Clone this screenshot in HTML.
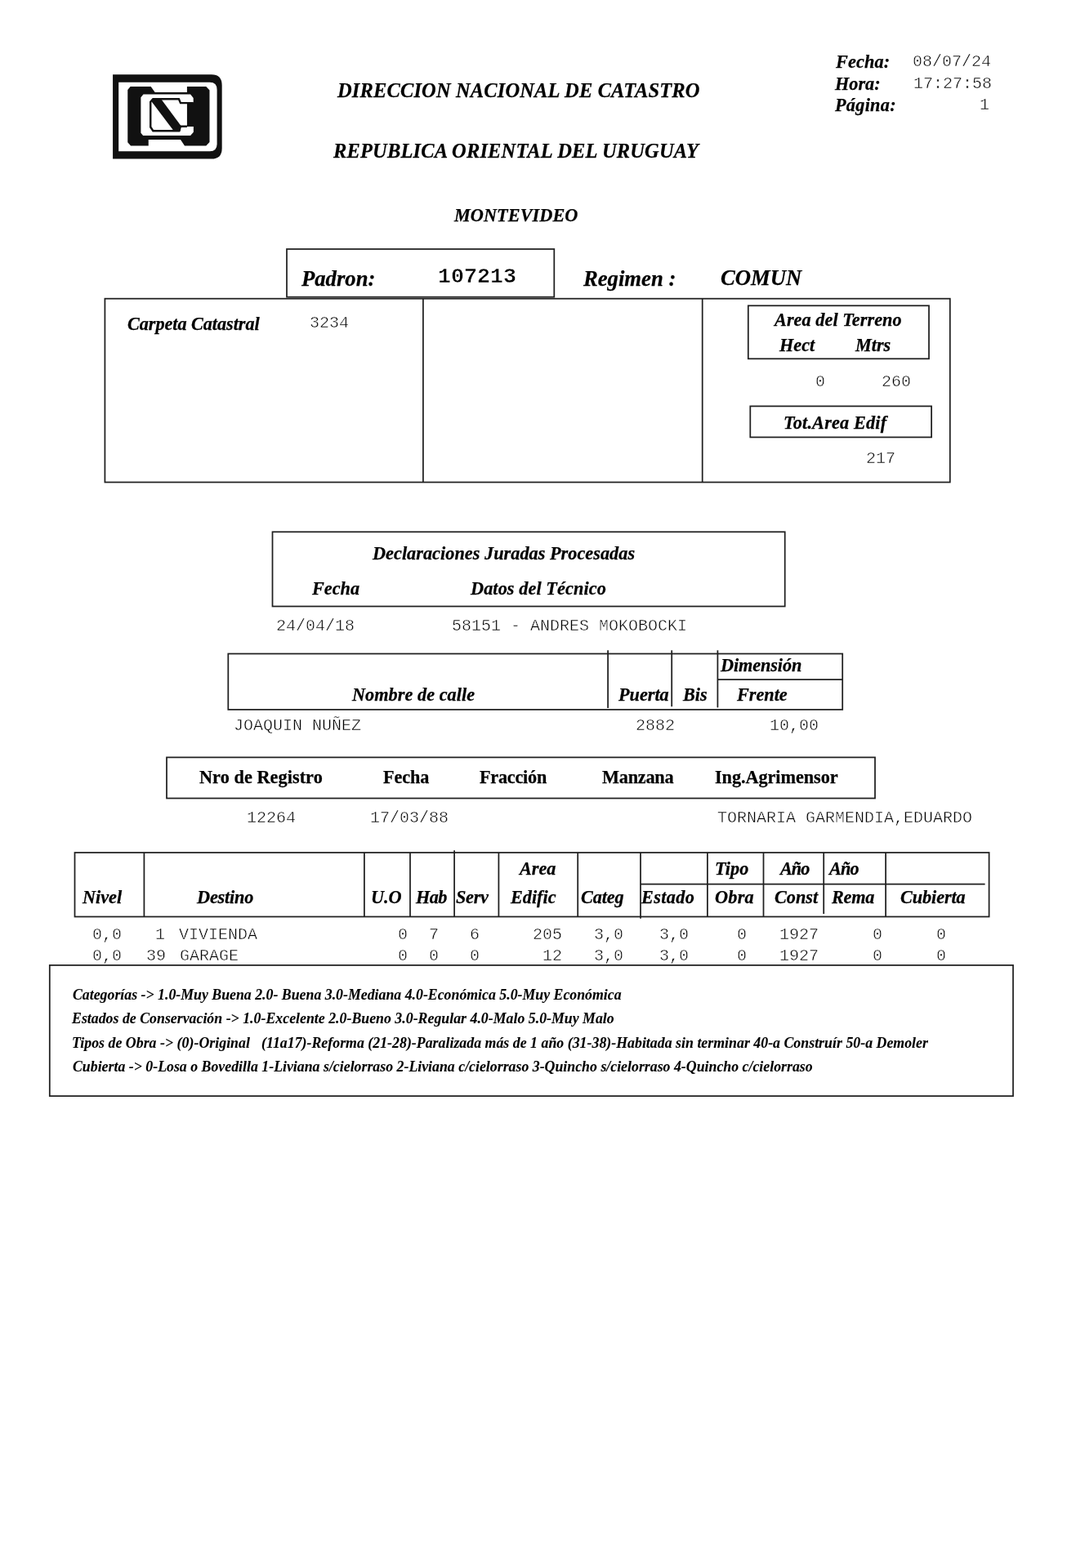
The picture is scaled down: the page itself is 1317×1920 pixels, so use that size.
<!DOCTYPE html>
<html lang="es"><head><meta charset="utf-8"><title>Direccion Nacional de Catastro</title>
<style>
html,body{margin:0;padding:0;background:#fff}
#pg{position:relative;width:1317px;height:1920px;background:#fff;overflow:hidden}
#pg div{position:absolute;white-space:pre;line-height:1;color:#000;will-change:transform}
#pg svg{position:absolute;left:0;top:0}
#pg .t1{font:italic bold 24.44px/1 'Liberation Serif',serif;-webkit-text-stroke:0.25px #000}
#pg .bi{font:italic bold 22.22px/1 'Liberation Serif',serif;-webkit-text-stroke:0.25px #000}
#pg .big{font:italic bold 26.67px/1 'Liberation Serif',serif;-webkit-text-stroke:0.25px #000}
#pg .b{font:bold 22.22px/1 'Liberation Serif',serif;-webkit-text-stroke:0.25px #000}
#pg .n{font:italic bold 17.78px/1 'Liberation Serif',serif;-webkit-text-stroke:0.1px #000}
#pg .m{font:normal 20px/1 'Liberation Mono',monospace;color:#000;-webkit-text-stroke:0.5px #fff}
#pg .mb{font:bold 26.67px/1 'Liberation Mono',monospace;-webkit-text-stroke:0.5px #fff}
</style></head><body>
<div id="pg">
<svg width="1317" height="1920" viewBox="0 0 1317 1920">
<g fill="none" stroke="#202020" stroke-width="1.75">
<rect x="351.00" y="305.00" width="327.30" height="58.70"/>
<rect x="128.40" y="365.70" width="1034.40" height="224.80"/>
<rect x="915.80" y="374.30" width="221.20" height="65.00"/>
<rect x="918.30" y="497.40" width="221.80" height="38.00"/>
<rect x="333.50" y="651.30" width="627.20" height="91.20"/>
<rect x="279.30" y="800.50" width="751.90" height="68.40"/>
<rect x="204.00" y="927.40" width="867.00" height="50.10"/>
<rect x="91.50" y="1044.00" width="1119.10" height="78.50"/>
<rect x="60.80" y="1181.90" width="1179.20" height="160.20"/>
<line x1="517.9" y1="365.7" x2="517.9" y2="590.5"/>
<line x1="859.7" y1="365.7" x2="859.7" y2="590.5"/>
<line x1="744.1" y1="796.3" x2="744.1" y2="866.9"/>
<line x1="822.2" y1="796.3" x2="822.2" y2="865.2"/>
<line x1="878.4" y1="796.3" x2="878.4" y2="866.4"/>
<line x1="878.4" y1="832.1" x2="1031.2" y2="832.1"/>
<line x1="176.4" y1="1044" x2="176.4" y2="1122.7"/>
<line x1="445.9" y1="1044" x2="445.9" y2="1122.7"/>
<line x1="502.0" y1="1044" x2="502.0" y2="1122.7"/>
<line x1="556.1" y1="1041.3" x2="556.1" y2="1122.7"/>
<line x1="610.4" y1="1044" x2="610.4" y2="1122.7"/>
<line x1="707.2" y1="1044" x2="707.2" y2="1122.7"/>
<line x1="784.0" y1="1044" x2="784.0" y2="1124.7"/>
<line x1="865.9" y1="1044" x2="865.9" y2="1122.7"/>
<line x1="934.5" y1="1044" x2="934.5" y2="1122.7"/>
<line x1="1008.2" y1="1044" x2="1008.2" y2="1119"/>
<line x1="1084.1" y1="1044" x2="1084.1" y2="1122.7"/>
<line x1="784.0" y1="1082.6" x2="1205.6" y2="1082.6"/>
</g>
<g id="logo">
<g transform="translate(120,80) scale(0.12908)">
<path d="M140 88 H1075 Q1175 88 1175 190 V786 Q1175 888 1075 888 H140 Z" fill="#111"/>
<path d="M195 161 H1060 Q1128 161 1128 232 V746 Q1128 816 1060 816 H195 Z" fill="#fff"/>
</g>
<g transform="translate(150,100) scale(0.08352)">
<path d="M115 72 H415 L475 155 H945 V72 H1225 L1275 125 V885 L1225 940 H910 L850 850 H380 V940 H120 L75 890 V120 Z" fill="#111"/>
<path d="M305 187 H995 L1038 240 V305 H945 V660 H1040 V740 L995 790 H300 L268 750 V230 Z" fill="#fff"/>
<path d="M1038 313 H850 L825 255 H447 L410 297 V665 L447 721 H830 L850 655 H945" fill="none" stroke="#111" stroke-width="29" stroke-linejoin="miter"/>
<path d="M429 255 H565 L851 640 V722 H750 L429 297 Z" fill="#111"/>
</g>
</g>
</svg>
<div class="t1" id="t0" style="left:412.80px;top:99px;letter-spacing:0.174px">DIRECCION NACIONAL DE CATASTRO</div>
<div class="t1" id="t1" style="left:407.80px;top:173px;letter-spacing:0.183px">REPUBLICA ORIENTAL DEL URUGUAY</div>
<div class="bi" id="t2" style="left:556.00px;top:253px;letter-spacing:0.080px">MONTEVIDEO</div>
<div class="bi" id="t3" style="left:1022.80px;top:65px;letter-spacing:0.126px">Fecha:</div>
<div class="bi" id="t4" style="left:1022.20px;top:92px">Hora:</div>
<div class="bi" id="t5" style="left:1022.20px;top:118px;letter-spacing:0.285px">Página:</div>
<div class="m" id="t6" style="left:1116.85px;top:66px">08/07/24</div>
<div class="m" id="t7" style="left:1118.25px;top:93px">17:27:58</div>
<div class="m" id="t8" style="left:1199.10px;top:119px">1</div>
<div class="big" id="t9" style="left:368.80px;top:328px">Padron:</div>
<div class="mb" id="t10" style="left:535.90px;top:326px">107213</div>
<div class="big" id="t11" style="left:713.80px;top:328px">Regimen :</div>
<div class="big" id="t12" style="left:881.80px;top:327px">COMUN</div>
<div class="bi" id="t13" style="left:155.80px;top:386px;letter-spacing:-0.045px">Carpeta Catastral</div>
<div class="m" id="t14" style="left:379.10px;top:386px">3234</div>
<div class="bi" id="t15" style="left:947.70px;top:381px;letter-spacing:0.060px">Area del Terreno</div>
<div class="bi" id="t16" style="left:954.00px;top:412px">Hect</div>
<div class="bi" id="t17" style="left:1047.00px;top:412px">Mtrs</div>
<div class="m" id="t18" style="left:997.75px;top:458px">0</div>
<div class="m" id="t19" style="left:1079.30px;top:458px">260</div>
<div class="bi" id="t20" style="left:959.00px;top:507px;letter-spacing:0.188px">Tot.Area Edif</div>
<div class="m" id="t21" style="left:1060.40px;top:552px">217</div>
<div class="bi" id="t22" style="left:456.10px;top:667px;letter-spacing:0.044px">Declaraciones Juradas Procesadas</div>
<div class="bi" id="t23" style="left:382.10px;top:710px">Fecha</div>
<div class="bi" id="t24" style="left:576.10px;top:710px;letter-spacing:0.101px">Datos del Técnico</div>
<div class="m" id="t25" style="left:337.65px;top:757px">24/04/18</div>
<div class="m" id="t26" style="left:553.05px;top:757px">58151 - ANDRES MOKOBOCKI</div>
<div class="bi" id="t27" style="left:882.40px;top:804px;letter-spacing:-0.090px">Dimensión</div>
<div class="bi" id="t28" style="left:430.90px;top:840px;letter-spacing:0.051px">Nombre de calle</div>
<div class="bi" id="t29" style="left:757.10px;top:840px">Puerta</div>
<div class="bi" id="t30" style="left:835.80px;top:840px">Bis</div>
<div class="bi" id="t31" style="left:901.70px;top:840px">Frente</div>
<div class="m" id="t32" style="left:286.40px;top:879px">JOAQUIN NUÑEZ</div>
<div class="m" id="t33" style="left:778.30px;top:879px">2882</div>
<div class="m" id="t34" style="left:941.90px;top:879px">10,00</div>
<div class="b" id="t35" style="left:244.40px;top:941px;letter-spacing:0.071px">Nro de Registro</div>
<div class="b" id="t36" style="left:469.00px;top:941px;letter-spacing:-0.090px">Fecha</div>
<div class="b" id="t37" style="left:587.20px;top:941px;letter-spacing:-0.231px">Fracción</div>
<div class="b" id="t38" style="left:736.90px;top:941px;letter-spacing:-0.225px">Manzana</div>
<div class="b" id="t39" style="left:875.40px;top:941px;letter-spacing:-0.048px">Ing.Agrimensor</div>
<div class="m" id="t40" style="left:302.00px;top:992px">12264</div>
<div class="m" id="t41" style="left:452.50px;top:992px">17/03/88</div>
<div class="m" id="t42" style="left:877.75px;top:992px">TORNARIA GARMENDIA,EDUARDO</div>
<div class="bi" id="t43" style="left:101.30px;top:1088px">Nivel</div>
<div class="bi" id="t44" style="left:241.10px;top:1088px;letter-spacing:-0.165px">Destino</div>
<div class="bi" id="t45" style="left:453.80px;top:1088px">U.O</div>
<div class="bi" id="t46" style="left:509.00px;top:1088px;letter-spacing:-0.630px">Hab</div>
<div class="bi" id="t47" style="left:558.30px;top:1088px;letter-spacing:-0.270px">Serv</div>
<div class="bi" id="t48" style="left:636.20px;top:1053px">Area</div>
<div class="bi" id="t49" style="left:624.80px;top:1088px">Edific</div>
<div class="bi" id="t50" style="left:710.80px;top:1088px;letter-spacing:-0.135px">Categ</div>
<div class="bi" id="t51" style="left:784.90px;top:1088px;letter-spacing:0.360px">Estado</div>
<div class="bi" id="t52" style="left:875.00px;top:1053px;letter-spacing:0.060px">Tipo</div>
<div class="bi" id="t53" style="left:874.60px;top:1088px;letter-spacing:0.270px">Obra</div>
<div class="bi" id="t54" style="left:955.40px;top:1053px;letter-spacing:-0.945px">Año</div>
<div class="bi" id="t55" style="left:948.00px;top:1088px">Const</div>
<div class="bi" id="t56" style="left:1014.60px;top:1053px;letter-spacing:-0.855px">Año</div>
<div class="bi" id="t57" style="left:1018.20px;top:1088px;letter-spacing:-0.270px">Rema</div>
<div class="bi" id="t58" style="left:1101.60px;top:1088px;letter-spacing:-0.077px">Cubierta</div>
<div class="m" id="t59" style="left:113.30px;top:1135px">0,0</div>
<div class="m" id="t60" style="left:189.70px;top:1135px">1</div>
<div class="m" id="t61" style="left:219.00px;top:1135px">VIVIENDA</div>
<div class="m" id="t62" style="left:486.60px;top:1135px">0</div>
<div class="m" id="t63" style="left:525.20px;top:1135px">7</div>
<div class="m" id="t64" style="left:575.40px;top:1135px">6</div>
<div class="m" id="t65" style="left:651.70px;top:1135px">205</div>
<div class="m" id="t66" style="left:726.80px;top:1135px">3,0</div>
<div class="m" id="t67" style="left:806.70px;top:1135px">3,0</div>
<div class="m" id="t68" style="left:901.80px;top:1135px">0</div>
<div class="m" id="t69" style="left:953.95px;top:1135px">1927</div>
<div class="m" id="t70" style="left:1068.40px;top:1135px">0</div>
<div class="m" id="t71" style="left:1145.50px;top:1135px">0</div>
<div class="m" id="t72" style="left:113.30px;top:1161px">0,0</div>
<div class="m" id="t73" style="left:178.55px;top:1161px">39</div>
<div class="m" id="t74" style="left:219.80px;top:1161px">GARAGE</div>
<div class="m" id="t75" style="left:486.60px;top:1161px">0</div>
<div class="m" id="t76" style="left:525.20px;top:1161px">0</div>
<div class="m" id="t77" style="left:575.40px;top:1161px">0</div>
<div class="m" id="t78" style="left:664.00px;top:1161px">12</div>
<div class="m" id="t79" style="left:726.80px;top:1161px">3,0</div>
<div class="m" id="t80" style="left:806.70px;top:1161px">3,0</div>
<div class="m" id="t81" style="left:901.80px;top:1161px">0</div>
<div class="m" id="t82" style="left:953.95px;top:1161px">1927</div>
<div class="m" id="t83" style="left:1068.40px;top:1161px">0</div>
<div class="m" id="t84" style="left:1145.50px;top:1161px">0</div>
<div class="n" id="t85" style="left:88.80px;top:1210px;letter-spacing:0.014px">Categorías -&gt; 1.0-Muy Buena 2.0- Buena 3.0-Mediana 4.0-Económica 5.0-Muy Económica</div>
<div class="n" id="t86" style="left:88.00px;top:1239px;letter-spacing:0.026px">Estados de Conservación -&gt; 1.0-Excelente 2.0-Bueno 3.0-Regular 4.0-Malo 5.0-Muy Malo</div>
<div class="n" id="t87" style="left:88.20px;top:1269px;letter-spacing:0.042px">Tipos de Obra -&gt; (0)-Original</div>
<div class="n" id="t88" style="left:320.00px;top:1269px;letter-spacing:0.035px">(11a17)-Reforma (21-28)-Paralizada más de 1 año (31-38)-Habitada sin terminar 40-a Construír 50-a Demoler</div>
<div class="n" id="t89" style="left:88.80px;top:1298px;letter-spacing:0.019px">Cubierta -&gt; 0-Losa o Bovedilla 1-Liviana s/cielorraso 2-Liviana c/cielorraso 3-Quincho s/cielorraso 4-Quincho c/cielorraso</div>
</div></body></html>
